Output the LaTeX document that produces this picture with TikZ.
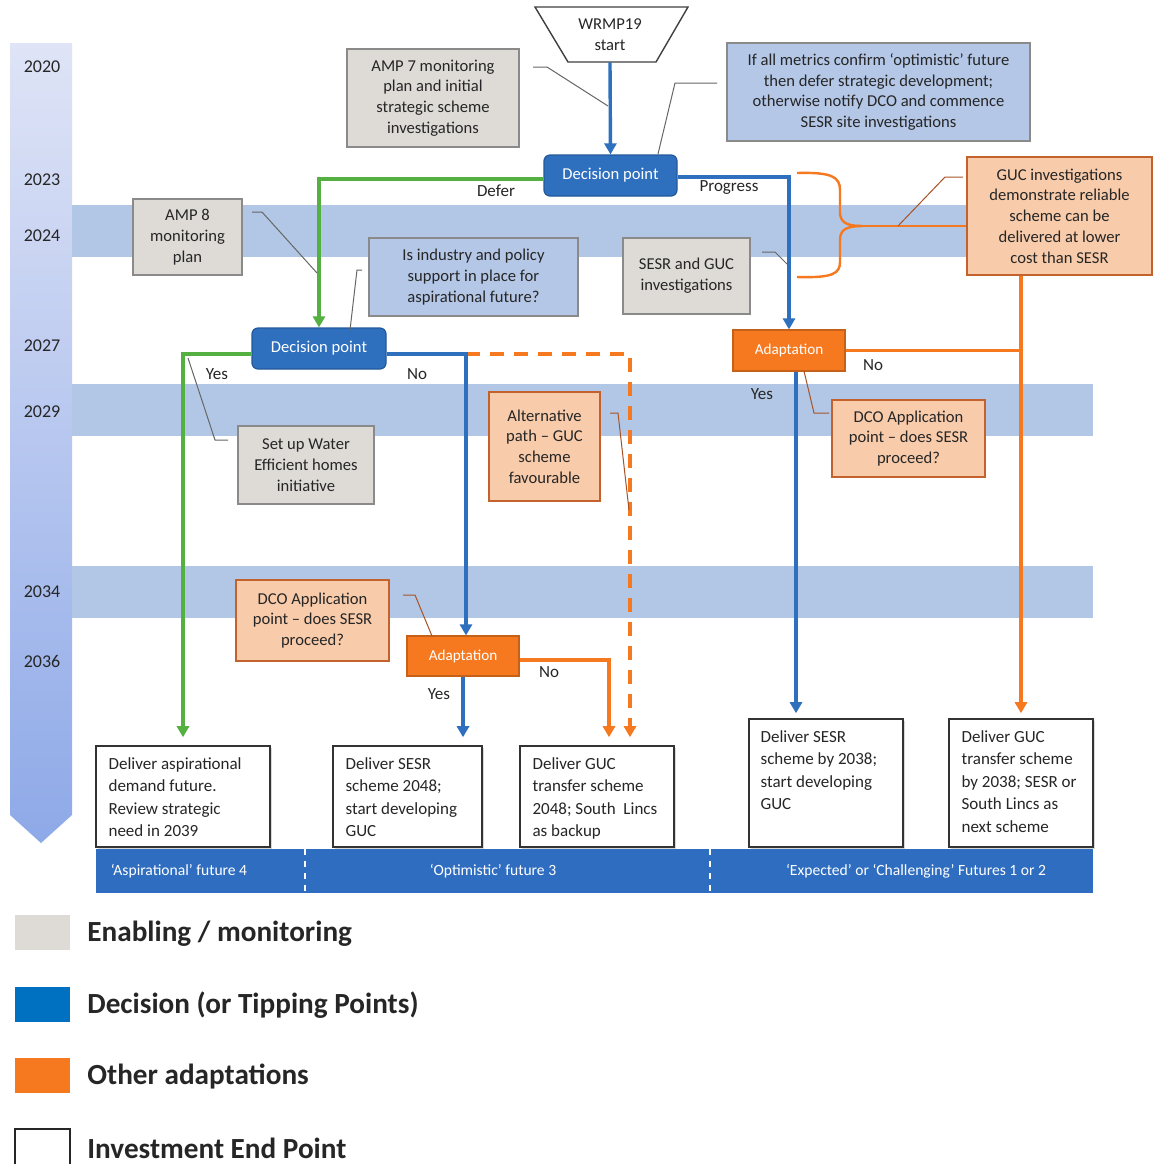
\documentclass[tikz,border=0pt]{standalone}
\usepackage{fontspec}
\setmainfont{Carlito}
\usetikzlibrary{arrows.meta,shadows,calc}
\definecolor{dblue}{HTML}{2E6FBE}
\definecolor{dblueb}{HTML}{24589A}
\definecolor{lblue}{HTML}{B4C7E7}
\definecolor{band}{HTML}{B2C7E5}
\definecolor{gfill}{HTML}{DEDBD7}
\definecolor{gborder}{HTML}{8A8A8A}
\definecolor{ofill}{HTML}{F8CBAA}
\definecolor{oborder}{HTML}{C4622D}
\definecolor{orng}{HTML}{F6791F}
\definecolor{grn}{HTML}{54B041}
\definecolor{txt}{HTML}{262626}
\definecolor{barblue}{HTML}{2E6DBF}
\definecolor{legblue}{HTML}{0070C0}
\definecolor{tlA}{HTML}{DFE4F6}
\definecolor{tlB}{HTML}{8EA9E8}
\begin{document}
\begin{tikzpicture}[x=0.5pt,y=-0.5pt,
  font=\fontsize{8.3}{10.4}\selectfont, text=txt,
  basebox/.style={rectangle, inner sep=0pt, align=center},
  gbox/.style={basebox, fill=gfill, draw=gborder, line width=0.6pt},
  bbox/.style={basebox, fill=lblue, draw=gborder, line width=0.6pt},
  obox/.style={basebox, fill=ofill, draw=oborder, line width=0.6pt},
  dpbox/.style={basebox, rounded corners=3pt, fill=dblue, draw=dblueb, line width=0.6pt, text=white, minimum width=66.5pt, minimum height=20.5pt},
  adbox/.style={basebox, fill=orng, draw=orng!80!black, line width=0.6pt, text=white, font=\fontsize{7.6}{9}\selectfont, minimum width=56pt, minimum height=20.5pt},
  endbox/.style={basebox, fill=white, draw=black!80, line width=0.8pt, drop shadow={shadow xshift=1.2pt, shadow yshift=-1.2pt, opacity=0.3}},
  endtxt/.style={inner sep=0pt, anchor=north west, align=left, font=\fontsize{8.5}{11.2}\selectfont},
  bline/.style={draw=dblue, line width=1.7pt},
  gline/.style={draw=grn, line width=1.7pt},
  oline/.style={draw=orng, line width=1.7pt},
  tip/.style={-{Triangle[length=5.5pt,width=6pt]}},
  call/.style={draw=gray!80!black, line width=0.5pt},
  ocall/.style={draw=oborder!85!black, line width=0.5pt},
  lbl/.style={inner sep=0pt, font=\fontsize{8.5}{10}\selectfont},
  year/.style={inner sep=0pt, font=\fontsize{9}{10}\selectfont, text=black!85},
  bartxt/.style={inner sep=0pt, text=white, font=\fontsize{7.8}{9}\selectfont},
  legtxt/.style={inner sep=0pt, anchor=west, font=\fontsize{14.6}{17}\selectfont\bfseries, text=black!85},
]
\useasboundingbox (0,0) rectangle (1155,1164);
\fill[white] (0,0) rectangle (1155,1164);

% timeline arrow
\shade[top color=tlA, bottom color=tlB] (10,43) -- (72,43) -- (72,815) -- (41,843) -- (10,815) -- cycle;
\node[year] (y2020) at (42,67) {2020};
\node[year] (y2023) at (42,180) {2023};
\node[year] (y2024) at (42,236) {2024};
\node[year] (y2027) at (42,346) {2027};
\node[year] (y2029) at (42,412) {2029};
\node[year] (y2034) at (42,592) {2034};
\node[year] (y2036) at (42,661) {2036};

% bands
\fill[band] (72,205) rectangle (1093,257);
\fill[band] (72,384) rectangle (1093,436);
\fill[band] (72,566) rectangle (1093,618);

% start
\draw[fill=white, draw=black!75, line width=0.7pt] (535,7) -- (688,7) -- (656,62) -- (568,62) -- cycle;
\node[basebox, minimum width=44pt, minimum height=27.5pt] (wrmp) at (610,34.5) {WRMP19\\start};

% boxes
\node[gbox, minimum width=86pt, minimum height=49pt] (amp7) at (433,98) {AMP 7 monitoring\\plan and initial\\strategic scheme\\investigations};
\node[bbox, minimum width=151.5pt, minimum height=49pt] (topinfo) at (878.5,92) {If all metrics confirm ‘optimistic’ future\\then defer strategic development;\\otherwise notify DCO and commence\\SESR site investigations};
\node[dpbox] (dp1) at (610.5,175.5) {Decision point};
\node[obox, minimum width=92.5pt, minimum height=59pt] (guc) at (1059.5,216) {GUC investigations\\demonstrate reliable\\scheme can be\\delivered at lower\\cost than SESR};
\node[gbox, minimum width=54.5pt, minimum height=38pt] (amp8) at (187.5,237) {AMP 8\\monitoring\\plan};
\node[bbox, minimum width=104.5pt, minimum height=39pt] (industry) at (473.5,277) {Is industry and policy\\support in place for\\aspirational future?};
\node[gbox, minimum width=63.5pt, minimum height=38pt] (sesrguc) at (686.5,276) {SESR and GUC\\investigations};
\node[dpbox, minimum width=67pt] (dp2) at (319,348.5) {Decision point};
\node[adbox] (adapt1) at (789,350.5) {Adaptation};
\node[gbox, minimum width=68pt, minimum height=39pt] (setup) at (306,465) {Set up Water\\Efficient homes\\initiative};
\node[obox, minimum width=55.5pt, minimum height=54.5pt] (alt) at (544.5,446.5) {Alternative\\path – GUC\\scheme\\favourable};
\node[obox, minimum width=76.5pt, minimum height=38.5pt] (dco1) at (908.5,438.5) {DCO Application\\point – does SESR\\proceed?};
\node[obox, minimum width=76.5pt, minimum height=40.5pt] (dco2) at (312.5,620.5) {DCO Application\\point – does SESR\\proceed?};
\node[adbox, minimum height=20pt] (adapt2) at (463,656) {Adaptation};

% end boxes
\node[endbox, minimum width=87pt, minimum height=50.5pt] (endA) at (183,796.5) {};
\node[endbox, minimum width=74.5pt, minimum height=50.5pt] (endB) at (407.5,796.5) {};
\node[endbox, minimum width=77pt, minimum height=50.5pt] (endC) at (597,796.5) {};
\node[endbox, minimum width=77pt, minimum height=64pt] (endD) at (826,783) {};
\node[endbox, minimum width=72pt, minimum height=64pt] (endE) at (1021,783) {};
\node[endtxt] (endAt) at ($(endA.north west)+(13,12)$) {Deliver aspirational\\demand future.\\Review strategic\\need in 2039};
\node[endtxt] (endBt) at ($(endB.north west)+(13,12)$) {Deliver SESR\\scheme 2048;\\start developing\\GUC};
\node[endtxt] (endCt) at ($(endC.north west)+(13,12)$) {Deliver GUC\\transfer scheme\\2048; South~ Lincs\\as backup};
\node[endtxt] (endDt) at ($(endD.north west)+(12,12)$) {Deliver SESR\\scheme by 2038;\\start developing\\GUC};
\node[endtxt] (endEt) at ($(endE.north west)+(13,12)$) {Deliver GUC\\transfer scheme\\by 2038; SESR or\\South Lincs as\\next scheme};

% bottom bar
\fill[barblue] (96,849) rectangle (1093,893);
\draw[white, dashed, line width=0.6pt] (305,849) -- (305,893);
\draw[white, dashed, line width=0.6pt] (710,849) -- (710,893);
\node[bartxt] (f4) at (179,871) {‘Aspirational’ future 4};
\node[bartxt] (f3) at (493,871) {‘Optimistic’ future 3};
\node[bartxt] (f12) at (916,871) {‘Expected’ or ‘Challenging’ Futures 1 or 2};

% connectors
\draw[bline,tip] (wrmp.south) -- (dp1.north);
\draw[gline,tip] ([yshift=-1.75pt]dp1.west) -| (dp2.north);
\draw[bline,tip] ([yshift=-0.75pt]dp1.east) -| (adapt1.north);
\draw[gline,tip,shorten >=4pt] ([yshift=-2.75pt]dp2.west) -| (endA.north);
\coordinate (jn) at (466,354);
\draw[oline,dash pattern=on 7pt off 5pt,tip,shorten >=4pt] (jn) -| ([xshift=16.5pt]endC.north);
\draw[bline,tip] ([yshift=-2.75pt]dp2.east) -| ([xshift=1.5pt]adapt2.north);
\draw[bline,tip,shorten >=4pt] (adapt2.south) -- (adapt2.south |- endB.north);
\draw[oline,tip,shorten >=4pt] ([yshift=-2pt]adapt2.east) -| ([xshift=6pt]endC.north);
\coordinate (a1s) at ([xshift=3.5pt]adapt1.south);
\draw[bline,tip,shorten >=2.5pt] (a1s) -- (a1s |- endD.north);
\draw[oline,tip,shorten >=2.5pt] (guc.south -| endE.north) -- (endE.north);
\draw[oline] (adapt1.east) -- (adapt1.east -| endE.north);

% brace
\coordinate (bt) at (797,173);
\coordinate (bb) at (797,277);
\coordinate (btip) at (862,226);
\draw[oline, line width=1.2pt] (bt) .. controls (832,172) and (840,177) .. (840,190) -- (840,212) .. controls (840,222) and (846,226) .. (btip);
\draw[oline, line width=1.2pt] (bb) .. controls (832,278) and (840,274) .. (840,262) -- (840,240) .. controls (840,230) and (846,226) .. (btip);
\draw[oline, line width=1.2pt] (btip) -- (guc.west |- btip);

% labels
\node[lbl] (ldefer) at (496,191) {Defer};
\node[lbl] (lprog) at (729,187) {Progress};
\node[lbl] (lyes1) at (217,374) {Yes};
\node[lbl] (lno1) at (417,374) {No};
\node[lbl] (lno2) at (873,365) {No};
\node[lbl] (lyes2) at (762,394) {Yes};
\node[lbl] (lyes3) at (439,694) {Yes};
\node[lbl] (lno3) at (549,672) {No};

% callouts
\draw[call] (533,67) -- (547,67) -- (608,106);
\draw[call] (717,83) -- (675,83) -- (658,154);
\draw[call] (252,212) -- (262,212) -- (317,273);
\draw[call] (362,270) -- (357,270) -- (350,330);
\draw[call] (762,252) -- (775,252) -- (787,264);
\draw[call] (228,440) -- (215,440) -- (188,358);
\draw[ocall] (963,177) -- (945,177) -- (898,226);
\draw[ocall] (610,413) -- (618,413) -- (629,510);
\draw[ocall] (829,413) -- (814,413) -- (804,371);
\draw[ocall] (403,595) -- (415,595) -- (432,636);

% legend
\fill[gfill] (15,915) rectangle (70,950);
\fill[legblue] (15,987) rectangle (70,1022);
\fill[orng] (15,1058) rectangle (70,1093);
\draw[black!85, line width=0.8pt] (15,1164) -- (15,1129) -- (70,1129) -- (70,1164);
\node[legtxt] (leg1) at (87,934) {Enabling / monitoring};
\node[legtxt] (leg2) at (87,1005) {Decision (or Tipping Points)};
\node[legtxt] (leg3) at (87,1077) {Other adaptations};
\node[legtxt] (leg4) at (87,1148) {Investment End Point};
\end{tikzpicture}
\end{document}
